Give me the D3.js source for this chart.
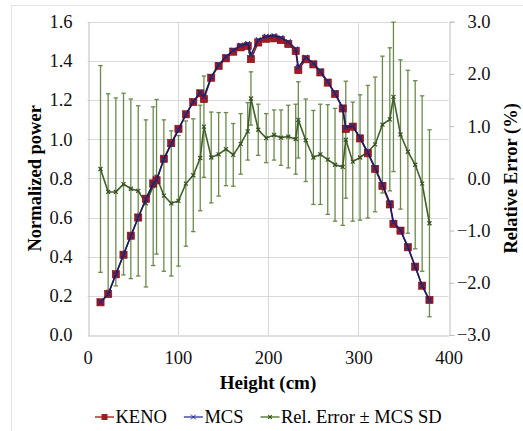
<!DOCTYPE html>
<html>
<head>
<meta charset="utf-8">
<script src="https://cdn.jsdelivr.net/npm/d3@7"></script>
<style>
  body { margin: 0; background: #fff; }
</style>
</head>
<body>
<div id="chart"></div>
<script>
var W = 523, H = 431;
var FONT = "Liberation Serif";

// axial heights (cm)
var heights = [14.4, 22.9, 31.4, 39.9, 48.0, 56.2, 64.7, 72.8, 76.5, 84.6,
    92.8, 100.8, 109.0, 117.2, 124.9, 129.0, 137.1, 145.3, 153.4, 161.5,
    169.7, 177.5, 181.1, 189.2, 198.0, 206.7, 214.4, 222.5, 230.7, 233.6,
    241.8, 250.3, 258.0, 266.2, 274.3, 282.8, 286.2, 293.9, 302.0, 310.6,
    318.7, 326.8, 335.0, 339.0, 346.8, 355.0, 363.1, 370.8, 378.9];

// normalized power
var keno = [0.167, 0.209, 0.310, 0.410, 0.507, 0.600, 0.696, 0.774, 0.790, 0.900,
    0.980, 1.053, 1.127, 1.190, 1.234, 1.205, 1.314, 1.374, 1.413, 1.447,
    1.469, 1.476, 1.409, 1.494, 1.513, 1.515, 1.506, 1.486, 1.450, 1.353,
    1.408, 1.382, 1.341, 1.289, 1.231, 1.157, 1.052, 1.064, 1.004, 0.928,
    0.848, 0.761, 0.667, 0.567, 0.533, 0.448, 0.349, 0.252, 0.179];

var mcs = [0.167, 0.208, 0.309, 0.410, 0.506, 0.599, 0.693, 0.773, 0.790, 0.897,
    0.975, 1.048, 1.126, 1.191, 1.239, 1.217, 1.319, 1.380, 1.421, 1.454,
    1.479, 1.489, 1.431, 1.508, 1.525, 1.528, 1.518, 1.498, 1.461, 1.368,
    1.418, 1.388, 1.347, 1.294, 1.234, 1.160, 1.060, 1.067, 1.008, 0.933,
    0.854, 0.769, 0.675, 0.576, 0.537, 0.450, 0.350, 0.252, 0.177];

// relative error (%) and MCS standard deviation (%)
var relErr = [0.18, -0.26, -0.26, -0.11, -0.20, -0.24, -0.48, -0.15, 0.03, -0.33,
    -0.48, -0.43, -0.10, 0.06, 0.39, 0.99, 0.40, 0.46, 0.56, 0.45,
    0.66, 0.90, 1.53, 0.93, 0.77, 0.83, 0.78, 0.80, 0.75, 1.12,
    0.73, 0.40, 0.46, 0.36, 0.26, 0.22, 0.74, 0.32, 0.40, 0.51,
    0.65, 1.03, 1.13, 1.56, 0.84, 0.51, 0.26, -0.10, -0.86];

var mcsSd = [1.98, 1.88, 1.80, 1.74, 1.72, 1.63, 1.60, 1.52, 1.48, 1.45,
    1.39, 1.25, 1.20, 1.08, 1.01, 0.97, 0.87, 0.80, 0.70, 0.60,
    0.58, 0.55, 0.51, 0.49, 0.47, 0.48, 0.53, 0.60, 0.67, 0.73,
    0.79, 0.90, 0.96, 1.05, 1.08, 1.12, 1.12, 1.14, 1.20, 1.27,
    1.29, 1.31, 1.37, 1.43, 1.43, 1.56, 1.61, 1.68, 1.79];

var xTicks = [0, 100, 200, 300, 400];
var yTicks = [0, 0.2, 0.4, 0.6, 0.8, 1.0, 1.2, 1.4, 1.6];
var y2Ticks = [-3, -2, -1, 0, 1, 2, 3];
var legendNames = ["KENO", "MCS", "Rel. Error \u00b1 MCS SD"];

var colKeno = "#a31a22", colKenoLine = "#8b1a1a",
    colMcs = "#1f2a80", colMcsLine = "#141b6b",
    colErr = "#42612a", colBar = "#6a8a4c",
    gridCol = "#d9d9d9";

var plot = { left: 87.5, right: 448.5, top: 21.7, bottom: 335 };

var svg = d3.select("#chart").append("svg")
    .attr("width", W)
    .attr("height", H)
    .attr("font-family", FONT);

// chart area frame
svg.append("rect")
    .attr("x", 11.5).attr("y", 5.5)
    .attr("width", 600).attr("height", 600)
    .attr("fill", "none")
    .attr("stroke", "#e3e3e3");

var x = d3.scaleLinear().domain([0, 400]).range([plot.left, plot.right]);
var y = d3.scaleLinear().domain([0, 1.6]).range([plot.bottom, plot.top]);
var y2 = d3.scaleLinear().domain([-3, 3]).range([plot.bottom, plot.top]);

// gridlines
svg.append("g").selectAll("line")
    .data(yTicks.slice(1))
    .enter().append("line")
    .attr("x1", plot.left).attr("x2", plot.right)
    .attr("y1", function(d) { return Math.round(y(d)) + 0.5; })
    .attr("y2", function(d) { return Math.round(y(d)) + 0.5; })
    .attr("stroke", gridCol);

svg.append("g").selectAll("line")
    .data(xTicks.slice(1, 4))
    .enter().append("line")
    .attr("y1", plot.top).attr("y2", plot.bottom)
    .attr("x1", function(d) { return Math.round(x(d)) + 0.5; })
    .attr("x2", function(d) { return Math.round(x(d)) + 0.5; })
    .attr("stroke", gridCol);

// axes
var axisCol = "#bfbfbf";
var xAxis = svg.append("g")
    .attr("transform", "translate(0," + (Math.round(plot.bottom) + 0.5) + ")")
    .call(d3.axisBottom(x).tickValues(xTicks).tickSize(0).tickPadding(15));
xAxis.select(".domain").attr("stroke", axisCol);

var yAxis = svg.append("g")
    .attr("transform", "translate(" + (Math.round(plot.left) + 0.5) + ",0)")
    .call(d3.axisLeft(y).tickValues(yTicks).tickSize(0).tickPadding(16)
        .tickFormat(d3.format(".1f")));
yAxis.select(".domain").attr("stroke", axisCol);

var y2Axis = svg.append("g")
    .attr("transform", "translate(" + (Math.round(plot.right) + 0.5) + ",0)")
    .call(d3.axisRight(y2).tickValues(y2Ticks).tickSize(5).tickPadding(16)
        .tickFormat(d3.format(".1f")));
y2Axis.select(".domain").attr("stroke", axisCol);
y2Axis.selectAll(".tick line").attr("stroke", axisCol);
y2Axis.selectAll(".tick text").attr("text-anchor", "end").attr("x", 41);

[xAxis, yAxis, y2Axis].forEach(function(a) {
    a.attr("font-family", FONT).attr("font-size", 18.5);
    a.selectAll("text").attr("fill", "#111");
});

// axis titles
svg.append("text")
    .attr("x", 268).attr("y", 389)
    .attr("text-anchor", "middle")
    .attr("font-size", 19).attr("font-weight", "bold")
    .text("Height (cm)");

svg.append("text")
    .attr("transform", "translate(41," + ((plot.top + plot.bottom) / 2) + ") rotate(-90)")
    .attr("text-anchor", "middle")
    .attr("font-size", 18.5).attr("font-weight", "bold")
    .text("Normalized power");

svg.append("text")
    .attr("transform", "translate(517," + ((plot.top + plot.bottom) / 2) + ") rotate(-90)")
    .attr("text-anchor", "middle")
    .attr("font-size", 18.5).attr("font-weight", "bold")
    .text("Relative Error (%)");

// error bars
var bars = svg.append("g");
heights.forEach(function(h, i) {
    var cx = x(h),
        t = y2(relErr[i] + mcsSd[i]),
        b = y2(relErr[i] - mcsSd[i]);
    bars.append("line")
        .attr("x1", cx).attr("x2", cx).attr("y1", t).attr("y2", b)
        .attr("stroke", colBar).attr("stroke-width", 1.3);
    [t, b].forEach(function(yy) {
        bars.append("line")
            .attr("x1", cx - 2.2).attr("x2", cx + 2.2).attr("y1", yy).attr("y2", yy)
            .attr("stroke", colBar).attr("stroke-width", 1.3);
    });
});

// helper for cross markers
function cross(g, cx, cy, r, col, w) {
    g.append("path")
        .attr("d", "M" + (cx - r) + "," + (cy - r) + "L" + (cx + r) + "," + (cy + r) +
            "M" + (cx - r) + "," + (cy + r) + "L" + (cx + r) + "," + (cy - r))
        .attr("stroke", col).attr("stroke-width", w).attr("fill", "none");
}

// relative error line
var errLine = d3.line()
    .x(function(d, i) { return x(heights[i]); })
    .y(function(d) { return y2(d); });

svg.append("path")
    .datum(relErr)
    .attr("d", errLine)
    .attr("fill", "none")
    .attr("stroke", colErr)
    .attr("stroke-width", 1.6);

var errMarks = svg.append("g");
relErr.forEach(function(d, i) {
    cross(errMarks, x(heights[i]), y2(d), 2, "#365020", 1.2);
});

// KENO
var powerLine = function(arr) {
    return d3.line()
        .x(function(d, i) { return x(heights[i]); })
        .y(function(d) { return y(d); })(arr);
};

svg.append("path")
    .attr("d", powerLine(keno))
    .attr("fill", "none")
    .attr("stroke", colKenoLine)
    .attr("stroke-width", 1.5);

svg.append("g").selectAll("rect")
    .data(keno)
    .enter().append("rect")
    .attr("x", function(d, i) { return x(heights[i]) - 3.6; })
    .attr("y", function(d) { return y(d) - 3.6; })
    .attr("width", 7.2).attr("height", 7.2)
    .attr("fill", colKeno)
    .attr("stroke", "#7a1015").attr("stroke-width", 0.6);

// MCS
svg.append("path")
    .attr("d", powerLine(mcs))
    .attr("fill", "none")
    .attr("stroke", colMcsLine)
    .attr("stroke-width", 1.5);

var mcsMarks = svg.append("g");
mcs.forEach(function(d, i) {
    cross(mcsMarks, x(heights[i]), y(d), 2.4, colMcs, 1.1);
});

// legend
var legend = svg.append("g").attr("transform", "translate(0,417)");
var lx = 95;
legendNames.forEach(function(name, i) {
    var item = legend.append("g").attr("transform", "translate(" + lx + ",0)");
    var lineCol = [ "#c0282d", "#4a4aa8", "#5f8040" ][i];
    item.append("line")
        .attr("x1", 0).attr("x2", 19).attr("y1", 0).attr("y2", 0)
        .attr("stroke", lineCol).attr("stroke-width", 1.5);
    if (i === 0) {
        item.append("rect").attr("x", 6.5).attr("y", -3).attr("width", 6).attr("height", 6)
            .attr("fill", colKeno);
    } else if (i === 1) {
        cross(item, 9.5, 0, 2.4, colMcs, 1);
    } else {
        cross(item, 9.5, 0, 1.8, "#365020", 1.2);
    }
    var t = item.append("text")
        .attr("x", 20.5).attr("y", 6)
        .attr("font-size", 18.5)
        .text(name);
    lx += 20.5 + t.node().getComputedTextLength() + 17;
});
</script>
</body>
</html>
